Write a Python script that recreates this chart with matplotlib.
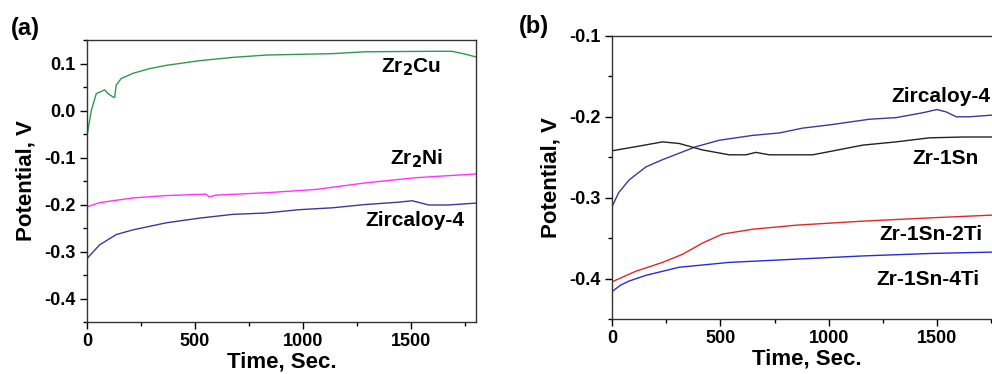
import matplotlib.pyplot as plt
from matplotlib.ticker import MultipleLocator

plt.rcParams['font.family'] = ['Liberation Sans', 'DejaVu Sans']
plt.rcParams['font.weight'] = 'bold'

# panel (a)
t_cu = [0, 20, 43, 82, 97, 120, 128, 135, 158, 212, 289, 366, 520, 674, 828, 1135, 1289, 1597, 1689, 1751, 1800]
v_cu = [-0.054, 0.0, 0.036, 0.044, 0.036, 0.029, 0.028, 0.054, 0.068, 0.079, 0.089, 0.096, 0.106, 0.113, 0.118, 0.121, 0.125, 0.126, 0.126, 0.12, 0.114]

t_ni = [0, 58, 212, 366, 551, 566, 597, 828, 1058, 1289, 1520, 1800]
v_ni = [-0.205, -0.196, -0.186, -0.181, -0.178, -0.184, -0.18, -0.175, -0.168, -0.154, -0.143, -0.135]

t_zy_a = [0, 58, 135, 212, 366, 520, 674, 828, 982, 1135, 1289, 1443, 1505, 1582, 1674, 1800]
v_zy_a = [-0.315, -0.286, -0.264, -0.254, -0.239, -0.229, -0.221, -0.218, -0.211, -0.207, -0.2, -0.195, -0.192, -0.201, -0.201, -0.197]

# panel (b)
t_zy_b = [0, 30, 79, 156, 233, 310, 387, 495, 649, 772, 880, 1004, 1189, 1312, 1435, 1500, 1543, 1589, 1651, 1800]
v_zy_b = [-0.311, -0.294, -0.278, -0.262, -0.253, -0.245, -0.237, -0.229, -0.223, -0.220, -0.214, -0.21, -0.203, -0.201, -0.195, -0.191, -0.194, -0.2, -0.2, -0.197]

t_sn = [0, 109, 233, 310, 418, 541, 618, 664, 726, 849, 926, 1004, 1158, 1312, 1466, 1620, 1800]
v_sn = [-0.242, -0.237, -0.231, -0.233, -0.241, -0.247, -0.247, -0.244, -0.247, -0.247, -0.247, -0.243, -0.235, -0.231, -0.226, -0.225, -0.225]

t_2ti = [0, 109, 233, 325, 418, 510, 649, 849, 1158, 1466, 1800]
v_2ti = [-0.404, -0.391, -0.38, -0.37, -0.356, -0.345, -0.339, -0.334, -0.329, -0.325, -0.321]

t_4ti = [0, 40, 79, 156, 310, 541, 849, 1158, 1466, 1800]
v_4ti = [-0.416, -0.408, -0.403, -0.396, -0.386, -0.380, -0.376, -0.372, -0.369, -0.367]

fig = plt.figure(figsize=(9.92, 3.74), dpi=100)
ax1 = fig.add_axes([0.0877, 0.139, 0.392, 0.754])
ax2 = fig.add_axes([0.617, 0.147, 0.393, 0.757])


def style(ax, ylim, major):
    ax.set_xlim(0, 1800)
    ax.set_ylim(*ylim)
    ax.xaxis.set_major_locator(MultipleLocator(500))
    ax.xaxis.set_minor_locator(MultipleLocator(250))
    ax.yaxis.set_major_locator(MultipleLocator(major))
    ax.yaxis.set_minor_locator(MultipleLocator(major / 2))
    ax.tick_params(which='major', direction='out', length=5, width=1, labelsize=13, pad=3)
    ax.tick_params(which='minor', direction='out', length=3, width=1)
    for lbl in ax.get_xticklabels() + ax.get_yticklabels():
        lbl.set_fontweight('bold')
    for s in ax.spines.values():
        s.set_linewidth(1)
        s.set_color('#333333')
    ax.set_xlabel('Time, Sec.', fontsize=16, fontweight='bold', labelpad=1)
    ax.set_ylabel('Potential, V', fontsize=16, fontweight='bold', labelpad=6)


style(ax1, (-0.45, 0.15), 0.1)
ax1.yaxis.set_major_formatter(plt.FuncFormatter(lambda v, p: '%.1f' % v))
ax1.plot(t_cu, v_cu, color='#2e9a50', lw=1)
ax1.plot(t_ni, v_ni, color='#ff33ff', lw=1)
ax1.plot(t_zy_a, v_zy_a, color='#3a3a96', lw=1)
ax1.text(1500, 0.092, 'Zr$_2$Cu', fontsize=15, fontweight='bold', ha='center', va='center')
ax1.text(1527, -0.102, 'Zr$_2$Ni', fontsize=15, fontweight='bold', ha='center', va='center')
ax1.text(1520, -0.234, 'Zircaloy-4', fontsize=15, fontweight='bold', ha='center', va='center')

style(ax2, (-0.45, -0.1), 0.1)
ax2.yaxis.set_major_formatter(plt.FuncFormatter(lambda v, p: '%.1f' % v))
ax2.plot(t_zy_b, v_zy_b, color='#3a3a96', lw=1)
ax2.plot(t_sn, v_sn, color='#222222', lw=1)
ax2.plot(t_2ti, v_2ti, color='#e02828', lw=1)
ax2.plot(t_4ti, v_4ti, color='#2a2ad8', lw=1)
ax2.text(1518, -0.175, 'Zircaloy-4', fontsize=15, fontweight='bold', ha='center', va='center')
ax2.text(1541, -0.251, 'Zr-1Sn', fontsize=15, fontweight='bold', ha='center', va='center')
ax2.text(1472, -0.346, 'Zr-1Sn-2Ti', fontsize=15, fontweight='bold', ha='center', va='center')
ax2.text(1458, -0.401, 'Zr-1Sn-4Ti', fontsize=15, fontweight='bold', ha='center', va='center')

fig.text(0.011, 0.925, '(a)', fontsize=17, fontweight='bold', va='center')
fig.text(0.523, 0.928, '(b)', fontsize=17, fontweight='bold', va='center')

fig.savefig('out.png', dpi=100)
